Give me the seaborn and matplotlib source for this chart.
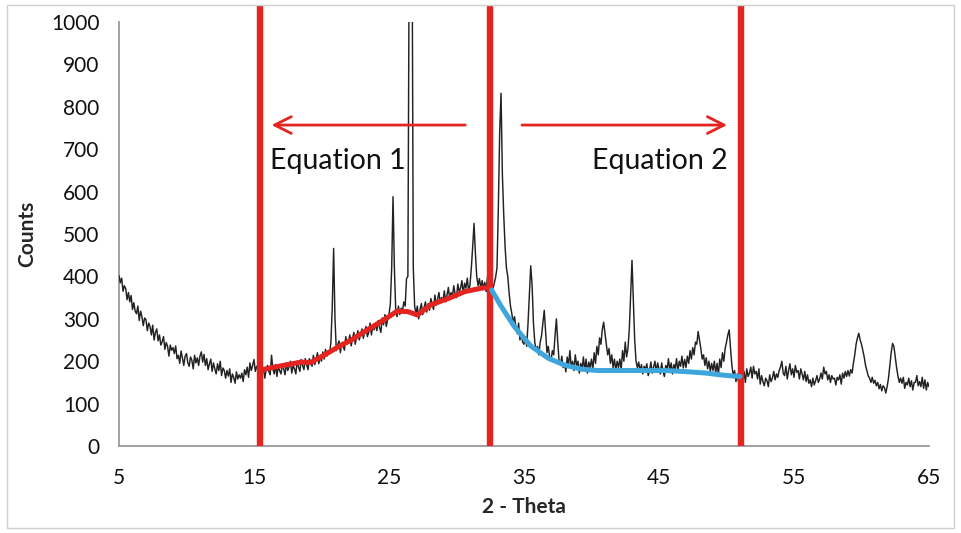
import numpy as np
import pandas as pd
import matplotlib
matplotlib.use("Agg")
import matplotlib.pyplot as plt
from matplotlib.patches import Rectangle
import seaborn as sns

# Measured diffraction pattern, 2-theta from 5 to 65 deg in 0.1 deg steps
two_theta = np.round(np.arange(5.0, 65.0001, 0.1), 1)
counts = [
    402, 385, 396, 365, 378, 371, 345, 362, 340, 355,    # 5
    322, 338, 318, 312, 330, 296, 318, 305, 284, 302,    # 6
    298, 272, 290, 282, 262, 285, 250, 268, 276, 248,    # 7
    262, 238, 246, 258, 228, 244, 235, 212, 238, 226,    # 8
    232, 218, 236, 206, 214, 195, 224, 208, 190, 212,    # 9
    218, 196, 188, 210, 202, 182, 214, 196, 208, 190,    # 10
    212, 222, 198, 216, 190, 206, 180, 194, 205, 176,    # 11
    196, 182, 170, 194, 178, 200, 166, 184, 178, 160,    # 12
    178, 165, 182, 150, 170, 162, 148, 175, 158, 168,    # 13
    160, 172, 152, 180, 168, 186, 162, 196, 178, 190,    # 14
    204, 176, 188, 180, 166, 190, 172, 184, 160, 180,    # 15
    190, 176, 168, 214, 182, 170, 192, 164, 188, 178,    # 16
    170, 192, 182, 168, 196, 178, 186, 200, 172, 190,    # 17
    182, 170, 200, 186, 176, 204, 190, 180, 206, 192,    # 18
    180, 206, 196, 188, 214, 192, 204, 220, 194, 212,    # 19
    200, 222, 205, 228, 212, 225, 218, 245, 330, 466,    # 20
    300, 225, 238, 248, 220, 244, 236, 226, 258, 240,    # 21
    246, 262, 236, 254, 268, 240, 258, 272, 250, 264,    # 22
    276, 254, 270, 282, 258, 268, 290, 262, 284, 274,    # 23
    290, 272, 296, 280, 268, 302, 286, 310, 282, 298,    # 24
    310, 335, 420, 588, 420, 320, 305, 330, 310, 325,    # 25
    318, 340, 330, 395, 400, 1200, 3000, 1300, 420, 330, # 26
    312, 330, 300, 322, 336, 310, 326, 340, 316, 336,    # 27
    320, 348, 334, 322, 356, 332, 346, 362, 338, 350,    # 28
    342, 366, 340, 356, 374, 346, 362, 352, 378, 358,    # 29
    350, 382, 364, 372, 390, 360, 384, 372, 396, 366,    # 30
    380, 420, 470, 525, 455, 400, 378, 395, 372, 390,    # 31
    372, 386, 364, 400, 378, 366, 392, 372, 384, 398,    # 32
    420, 560, 740, 832, 640, 545, 470, 420, 400, 360,    # 33
    330, 312, 290, 305, 280, 265, 290, 250, 268, 245,    # 34
    240, 258, 235, 290, 360, 425, 380, 290, 245, 225,    # 35
    235, 215, 245, 260, 290, 320, 270, 220, 235, 210,    # 36
    200, 225, 215, 260, 300, 245, 200, 190, 212, 185,    # 37
    195, 175, 210, 190, 225, 185, 200, 178, 215, 190,    # 38
    200, 172, 195, 180, 210, 178, 205, 172, 198, 185,    # 39
    205, 180, 220, 195, 235, 215, 255, 240, 275, 292,    # 40
    265, 240, 215, 230, 195, 215, 185, 205, 178, 200,    # 41
    185, 205, 180, 225, 200, 245, 210, 230, 275, 360,    # 42
    438, 340, 250, 200, 185, 198, 175, 192, 170, 188,    # 43
    180, 194, 166, 178, 198, 172, 186, 200, 174, 196,    # 44
    182, 170, 196, 176, 164, 190, 180, 206, 178, 196,    # 45
    170, 192, 182, 206, 176, 200, 188, 212, 184, 204,    # 46
    185, 212, 195, 225, 205, 232, 215, 245, 240, 270,    # 47
    250, 230, 205, 215, 190, 208, 182, 200, 175, 195,    # 48
    178, 200, 172, 195, 168, 205, 185, 220, 200, 230,    # 49
    245, 262, 274, 230, 190, 165, 178, 152, 170, 150,    # 50
    168, 146, 160, 176, 150, 182, 164, 172, 186, 160,    # 51
    188, 170, 176, 158, 182, 146, 166, 152, 142, 160,    # 52
    154, 140, 168, 152, 160, 176, 156, 170, 162, 178,    # 53
    186, 200, 172, 166, 188, 158, 178, 194, 168, 182,    # 54
    162, 190, 174, 178, 158, 182, 170, 156, 176, 152,    # 55
    168, 148, 156, 140, 160, 144, 154, 166, 150, 158,    # 56
    172, 158, 186, 170, 176, 156, 168, 150, 166, 158,    # 57
    160, 144, 162, 156, 168, 146, 172, 160, 176, 164,    # 58
    178, 165, 180, 172, 195, 215, 240, 255, 266, 250,    # 59
    240, 225, 210, 190, 178, 165, 160, 150, 162, 148,    # 60
    155, 142, 150, 135, 145, 130, 142, 138, 125, 140,    # 61
    160, 190, 220, 242, 235, 210, 185, 165, 150, 160,    # 62
    148, 162, 136, 150, 144, 160, 140, 154, 132, 150,    # 63
    150, 166, 142, 152, 140, 162, 136, 156, 132, 150,    # 64
    140,                                                 # 65
]

# Background fit below the boundary (Equation 1)
eq1_theta = [15.45, 16.5, 17.5, 18.5, 19.2, 20.4, 21.3, 22.2, 23.4, 24.6,
             25.6, 26.4, 27.1, 28.1, 29.4, 30.6, 31.8, 32.45]
eq1_counts = [179, 186, 192, 198, 197, 218, 235, 250, 274, 297,
              318, 317, 309, 333, 348, 364, 372, 374]

# Background fit above the boundary (Equation 2)
eq2_theta = [32.6, 33.3, 34.3, 35.5, 36.8, 38.0, 39.3, 40.5, 41.8, 43.7,
             45.5, 47.2, 48.5, 49.5, 50.5, 51.0]
eq2_counts = [368, 330, 281, 236, 207, 191, 181, 178, 178, 178,
              178, 175, 172, 168, 165, 164]

# Range boundaries
boundaries = [15.45, 32.45, 51.05]

x_ticks = [5, 15, 25, 35, 45, 55, 65]
y_ticks = list(range(0, 1001, 100))

sns.set_theme(style="white")
plt.rcParams["font.family"] = ["Lato", "DejaVu Sans"]

fig = plt.figure(figsize=(9.61, 5.33), dpi=100)
ax = fig.add_axes([0.1238, 0.1632, 0.8429, 0.7955])

trace = pd.DataFrame({"two_theta": two_theta, "counts": counts})
sns.lineplot(data=trace, x="two_theta", y="counts", ax=ax, color="#222222",
             linewidth=1.05, zorder=3)

for b in boundaries:
    ax.plot([b, b], [0, 1040], color="#e3241f", linewidth=4.6,
            clip_on=False, zorder=4, solid_capstyle="butt")

sns.lineplot(x=eq1_theta, y=eq1_counts, ax=ax, color="#e3241f",
             linewidth=3.6, zorder=5)
sns.lineplot(x=eq2_theta, y=eq2_counts, ax=ax, color="#3ea6dd",
             linewidth=3.6, zorder=5)

arrow_style = dict(arrowstyle="->", color="#e3241f", lw=2.0,
                   mutation_scale=30, shrinkA=0, shrinkB=0)
ax.annotate("", xy=(16.3, 757), xytext=(30.65, 757), arrowprops=arrow_style)
ax.annotate("", xy=(50.05, 757), xytext=(34.85, 757), arrowprops=arrow_style)
ax.text(16.15, 672, "Equation 1", fontsize=20.5, color="#111111",
        va="center", ha="left")
ax.text(40.05, 672, "Equation 2", fontsize=20.5, color="#111111",
        va="center", ha="left")

ax.set_xlim(5, 65)
ax.set_ylim(0, 1000)
ax.set_xticks(x_ticks)
ax.set_yticks(y_ticks)
ax.tick_params(axis="both", labelsize=15, colors="#111111", length=6,
               width=1.2, color="#9a9a9a", direction="out")
ax.tick_params(axis="x", pad=10)
ax.tick_params(axis="y", pad=8)
for side in ("top", "right"):
    ax.spines[side].set_visible(False)
for side in ("left", "bottom"):
    ax.spines[side].set_color("#9a9a9a")
    ax.spines[side].set_linewidth(1.3)

ax.set_xlabel("2 - Theta", fontsize=15, fontweight="bold", labelpad=6)
ax.set_ylabel("Counts", fontsize=15, fontweight="bold", labelpad=10)

fig.patches.append(Rectangle((0.007, 0.009), 0.986, 0.982,
                             transform=fig.transFigure, fill=False,
                             edgecolor="#cfcfcf", linewidth=1.0))

fig.savefig("out.png", dpi=100)
